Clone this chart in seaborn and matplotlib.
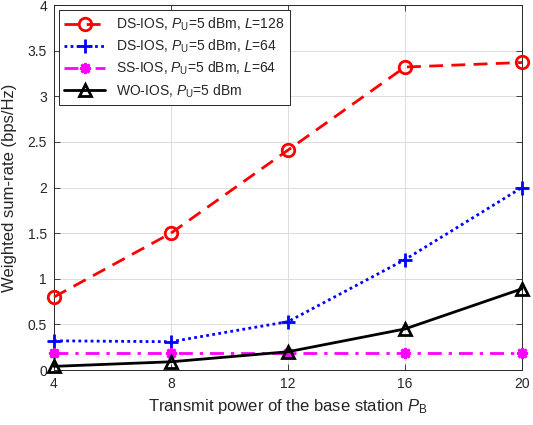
import matplotlib
matplotlib.use("Agg")
import matplotlib.pyplot as plt
import seaborn as sns
import pandas as pd

power = [4, 8, 12, 16, 20]
ds_l128 = [0.80, 1.50, 2.41, 3.32, 3.37]
ds_l64 = [0.32, 0.31, 0.53, 1.21, 2.00]
ss_l64 = [0.19, 0.19, 0.19, 0.19, 0.19]
wo_ios = [0.04, 0.09, 0.20, 0.45, 0.89]

labels = [
    r"DS-IOS, $P_\mathrm{U}$=5 dBm, $L$=128",
    r"DS-IOS, $P_\mathrm{U}$=5 dBm, $L$=64",
    r"SS-IOS, $P_\mathrm{U}$=5 dBm, $L$=64",
    r"WO-IOS, $P_\mathrm{U}$=5 dBm",
]

sns.set_style("ticks")
plt.rcParams['font.family'] = ['Liberation Sans', 'DejaVu Sans']
plt.rcParams['mathtext.fontset'] = 'custom'
plt.rcParams['mathtext.rm'] = 'Liberation Sans'
plt.rcParams['mathtext.it'] = 'Liberation Sans:italic'
plt.rcParams['xtick.direction'] = 'in'
plt.rcParams['ytick.direction'] = 'in'

fig = plt.figure(figsize=(5.33, 4.25), dpi=100)
ax = fig.add_axes([54/533, 55/425, 468/533, 365/425])

# (values, colour, marker, linestyle, marker size, filled)
styles = [
    (ds_l128, 'red', 'o', (0, (5, 3)), 9, False),
    (ds_l64, 'blue', '+', (0, (1, 1.2)), 10, True),
    (ss_l64, 'magenta', (8, 2, 0), (0, (5, 2.5, 1.2, 2.5)), 8, True),
    (wo_ios, 'black', '^', '-', 9, False),
]
for (vals, col, mk, ls, ms, filled), lab in zip(styles, labels):
    df = pd.DataFrame({'p': power, 'v': vals})
    sns.lineplot(data=df, x='p', y='v', ax=ax, color=col, marker=mk,
                 markersize=ms, markerfacecolor=col if filled else 'none',
                 markeredgecolor=col, markeredgewidth=2, linestyle=ls,
                 linewidth=2, label=lab, clip_on=False, zorder=3)

ax.set_xlim(4, 20)
ax.set_ylim(0, 4)
ax.set_xticks(power)
ax.set_yticks([0, 0.5, 1, 1.5, 2, 2.5, 3, 3.5, 4])
ax.set_yticklabels(['0', '0.5', '1', '1.5', '2', '2.5', '3', '3.5', '4'])
ax.grid(True, color='#dcdcdc', linewidth=0.7)
ax.set_axisbelow(True)
for s in ax.spines.values():
    s.set_color('#262626')
    s.set_linewidth(0.7)
ax.tick_params(colors='#262626', labelsize=10, length=4, width=0.6,
               top=True, right=True, pad=5)
ax.set_xlabel(r"Transmit power of the base station $P_\mathrm{B}$",
              fontsize=12, color='#262626', labelpad=4)
ax.set_ylabel("Weighted sum-rate (bps/Hz)", fontsize=12, color='#262626',
              labelpad=8)
leg = ax.legend(loc='upper left', fontsize=10, frameon=True, fancybox=False,
                edgecolor='#262626', framealpha=1, handlelength=2.9,
                borderaxespad=0.35, labelspacing=0.35)
leg.get_frame().set_linewidth(0.7)

fig.savefig("out.png", dpi=100)
